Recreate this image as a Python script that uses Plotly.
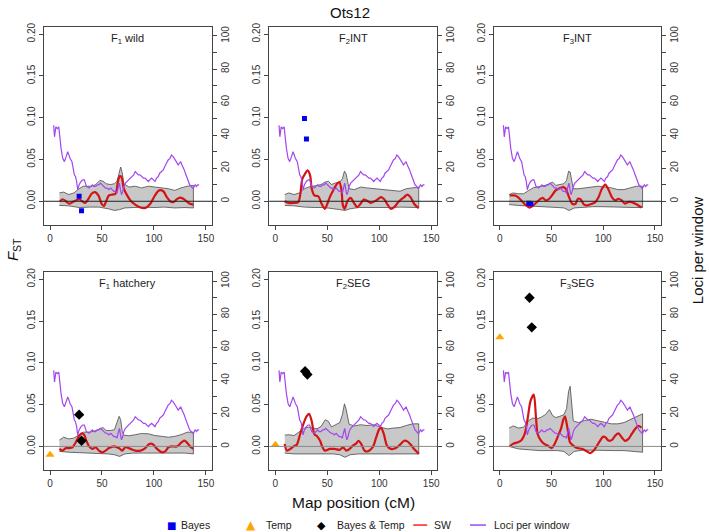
import plotly.graph_objects as go

# loci per window (same map for every panel, right axis)
loci_x = [3.5, 4.3, 5.6, 7, 8.4, 9.5, 10.6, 12.2, 13.8, 15.5, 17, 18.2, 19.2, 21.1, 22.2, 23.4, 24.5,
          25.6, 26.6, 28, 29.8, 31.5, 33, 34, 35, 37.5, 39, 40.7, 42, 43.9, 45.5, 47, 48.5, 50.2, 52,
          53.4, 55, 56.6, 58.5, 60, 61.4, 63, 64.5, 65.5, 66.8, 67.8, 68.8, 70, 71, 72.5, 74, 75.5,
          77.3, 79, 80.5, 82, 83.5, 85, 86.5, 88.3, 90, 91.5, 93, 94.7, 96, 97.8, 99.5, 101, 102.5,
          104.2, 105.5, 107.4, 109, 110.5, 112, 113.7, 115.5, 116.9, 118.5, 120, 121.5, 123.3, 124.5,
          125.8, 127, 128, 129.2, 130.3, 131.5, 132.8, 133.6, 134.4, 136, 137, 138, 139, 139.7, 141,
          142.2, 143.5]
loci_n = [46, 39, 45, 44, 45, 38, 32, 26, 24, 27, 30, 28, 26, 24, 20, 16, 15,
          12, 7, 10, 12, 13, 13, 11, 9, 8, 9, 10, 9, 9, 10, 10, 11, 10, 9,
          8, 8, 7, 8, 7, 6, 6, 5, 8, 11, 7, 4, 6, 9, 11, 12, 13,
          14, 15, 16, 18, 17, 16, 16, 15, 14, 14, 13, 12, 13, 14, 13, 12, 14,
          15, 17, 18, 19, 21, 23, 25, 26, 28, 27, 25, 24, 22, 23,
          24, 22, 20, 19, 17, 15, 13, 11, 10, 9, 8, 8, 9, 10, 9,
          10, 10]

# null distribution band (upper / lower)
band_ux = [9, 13, 18, 23, 28, 32, 36, 40, 44, 48, 51, 54, 58, 62, 64.5, 66.5, 68, 69.5, 71, 76,
           82, 88, 95, 101, 108, 114, 120, 126, 132, 138]
band_lx = [9, 18, 28, 38, 47, 56, 62, 67, 72, 80, 90, 100, 110, 120, 130, 138]

up1 = [.010, .011, .008, .010, .015, .018, .018, .018, .020, .025, .024, .021, .020, .021, .024, .036,
       .041, .034, .021, .017, .018, .016, .018, .017, .016, .015, .013, .016, .018, .019]
up2 = [.008, .010, .008, .010, .015, .017, .018, .019, .020, .023, .024, .020, .022, .023, .027, .036,
       .033, .024, .015, .014, .017, .016, .015, .015, .014, .013, .012, .015, .016, .017]
up3 = [.008, .010, .009, .009, .013, .016, .017, .018, .019, .021, .023, .019, .020, .021, .025, .036,
       .035, .026, .015, .015, .016, .017, .018, .017, .016, .014, .014, .016, .018, .018]
up4 = [.0075, .011, .009, .010, .014, .017, .017, .0175, .019, .021, .0226, .019, .019, .020, .030, .036,
       .032, .018, .0135, .0127, .014, .0155, .015, .013, .012, .011, .012, .014, .017, .017]
up5 = [.0135, .014, .013, .017, .022, .023, .022, .021, .024, .032, .030, .0234, .026, .0285, .038, .051,
       .045, .033, .0265, .0245, .026, .025, .026, .023, .021, .022, .0226, .025, .027, .027]
up6 = [.022, .0245, .022, .023, .031, .034, .033, .035, .038, .044, .037, .0345, .036, .038, .045, .066,
       .072, .050, .0305, .0285, .031, .0325, .031, .029, .027, .027, .0285, .032, .036, .039]

lo1 = [-.005, -.0055, -.0075, -.007, -.007, -.009, -.011, -.010, -.008, -.0075, -.007, -.0075, -.007, -.008, -.0075, -.008]
lo2 = [-.005, -.0055, -.007, -.0075, -.0075, -.009, -.010, -.011, -.009, -.0075, -.007, -.0075, -.0075, -.007, -.007, -.0075]
lo3 = [-.004, -.005, -.006, -.0065, -.007, -.0075, -.008, -.011, -.008, -.007, -.0065, -.0065, -.007, -.007, -.0075, -.0075]
lo4 = [-.006, -.007, -.0075, -.008, -.0083, -.009, -.010, -.012, -.009, -.008, -.008, -.008, -.0083, -.008, -.008, -.009]
lo5 = [-.008, -.009, -.009, -.009, -.009, -.009, -.010, -.013, -.010, -.009, -.009, -.009, -.009, -.009, -.009, -.009]
lo6 = [0.0, -.003, -.004, -.005, -.005, -.005, -.006, -.011, -.006, -.0045, -.0045, -.0045, -.005, -.005, -.006, -.007]

# sliding window FST
sw1_x = [9.6, 12, 15.3, 18.5, 21.7, 24.8, 28, 31, 33.8, 37, 40, 43.3, 46.5, 49.7, 52, 54, 56.7, 60, 63,
         65.3, 67, 68.8, 71, 74.2, 77.4, 82, 87, 91.7, 96.5, 101, 105, 109, 112.4, 115.6, 118.8, 122,
         125, 128.3, 131.5, 134.7, 138]
sw1 = [0, .0024, 0, -.003, -.001, .001, .0024, 0, -.002, .003, .009, .011, .007, -.003, -.0055, 0, .007,
       .008, .009, .023, .030, .029, .015, .007, .001, -.004, -.0075, -.008, -.003, .007, .013, .012, .005,
       0, -.001, .0024, .0044, .003, 0, -.003, -.004]
sw2_x = [8.9, 12.7, 17.5, 22, 23.8, 26, 28.6, 31, 33.4, 35, 37.5, 41.3, 44.5, 47.7, 50, 52.4, 55.6, 58.8,
         61.3, 63.5, 65, 66.7, 69.3, 72.4, 75.6, 78.8, 82, 85, 89, 92, 97, 101.7, 105, 108, 111, 114.4,
         119, 124, 127, 130, 133.5, 136.7, 138]
sw2 = [0, -.002, -.002, -.001, .007, .027, .033, .037, .031, .015, .007, .006, -.003, -.009, -.003, .005,
       .013, .020, .023, .015, -.005, -.009, 0, .004, -.002, -.007, -.003, .002, 0, -.002, .001, .005, .002,
       -.004, -.009, -.007, 0, .005, .008, .005, -.003, -.007, -.008]
sw3_x = [9.6, 14.3, 17.5, 22.3, 25.5, 28.7, 31.8, 36.6, 41.4, 44.6, 47.8, 51, 54, 58.3, 61.5, 63.7, 66.9,
         70, 73.2, 75.5, 78, 81.2, 84.4, 89, 92.4, 95.5, 98.7, 102, 105, 108.3, 111.5, 114.6, 117.8, 121,
         124, 127.4, 132, 137]
sw3 = [.007, .007, .005, -.001, -.005, -.0075, -.0055, 0, .004, .001, .003, .008, .013, .016, .017, .015,
       .005, -.003, -.003, .003, .0024, -.0036, -.005, -.003, -.001, .005, .015, .020, .014, .005, .001, .003,
       .001, -.003, -.001, -.001, -.0035, -.0075]
sw4_x = [9, 12, 15.3, 18.5, 21.7, 24.8, 28, 30.6, 32.8, 35, 37.6, 40.8, 44, 47, 50.3, 53.5, 56.7, 61.5,
         66.2, 69.4, 72.6, 77.4, 82, 87, 91.7, 95.5, 98.7, 103, 107.6, 110.8, 114, 117.2, 122, 126.8,
         129.3, 131.5, 134.7, 138]
sw4 = [-.003, -.005, -.002, -.002, -.001, .005, .0127, .0155, .014, .0067, 0, -.003, -.001, -.005, -.007,
       -.005, -.002, 0, -.002, -.005, -.001, -.003, -.005, -.005, -.002, .003, .003, -.003, -.007, -.006,
       -.001, 0, 0, .005, .007, .005, 0, -.003]
sw5_x = [8.9, 11, 14.3, 17.5, 20.6, 23.8, 27, 30, 32.4, 35, 37.5, 39.7, 43, 45.4, 47.7, 52.4, 57, 62, 65,
         68.3, 71.5, 74.7, 77.9, 80, 82.6, 85.8, 89, 93.7, 97, 100, 101.7, 104.2, 107.4, 111.2, 116,
         120.7, 124, 127, 130.3, 133.5, 136.6, 138]
sw5 = [.003, -.005, -.003, 0, .002, .0146, .027, .036, .039, .030, .0146, .0127, .0067, -.001, -.005,
       -.003, -.003, -.004, -.001, -.005, -.003, .001, .0036, .0067, .003, -.005, -.006, -.001, .0107,
       .0206, .0226, .0155, .001, -.003, -.002, .003, .0067, .006, .002, -.003, -.007, -.009]
sw6_x = [9.6, 12.7, 17.5, 20.7, 24, 27, 29.6, 32.8, 35, 36.6, 39.8, 43, 46, 50, 53, 55.7, 59, 61.5, 63,
         65.3, 67.8, 71, 74.9, 79.6, 84.4, 87.6, 90.8, 94, 97, 99.7, 102, 105, 108.3, 111.5, 114.6, 117.8,
         121, 124.2, 127.4, 130.6, 133.8, 137]
sw6 = [0, .003, .005, .007, .0146, .034, .054, .062, .034, .0146, .007, .003, .001, -.002, .003, .0107,
       .0206, .0325, .036, .0226, .005, .001, -.002, -.003, -.006, -.008, -.005, .001, .007, .0115, .011,
       .007, .0075, .0127, .0155, .011, .0067, .0087, .0146, .0206, .0245, .0226]

# outlier loci
bayes_x = {1: [28, 30.3], 2: [28, 29.9], 3: [28, 30]}
bayes_y = {1: [0.006, -0.0115], 2: [0.099, 0.0746], 3: [-0.0025, -0.003]}
temp_x = {4: [0], 5: [0], 6: [0]}
temp_y = {4: [-0.010], 5: [0.002], 6: [0.1307]}
both_x = {4: [28, 30.3], 5: [28.6, 30.8], 6: [28.7, 30.9]}
both_y = {4: [0.038, 0.0067], 5: [0.090, 0.086], 6: [0.178, 0.1425]}

titles = ["F<sub>1</sub> wild", "F<sub>2</sub>INT", "F<sub>3</sub>INT",
          "F<sub>1</sub> hatchery", "F<sub>2</sub>SEG", "F<sub>3</sub>SEG"]
uppers = [up1, up2, up3, up4, up5, up6]
lowers = [lo1, lo2, lo3, lo4, lo5, lo6]
sws = [(sw1_x, sw1), (sw2_x, sw2), (sw3_x, sw3), (sw4_x, sw4), (sw5_x, sw5), (sw6_x, sw6)]

W, H = 709, 532
col_px = [(44, 213), (270.3, 439.3), (495.7, 664)]
row_px = [(23, 223), (270, 470)]
FONT = "Liberation Sans, Arial, sans-serif"
RED = "#D41414"
PURPLE = "#A346F0"

fig = go.Figure()
layout = {}
shapes = []
annotations = []


def ax(kind, n):
    return kind if n == 1 else f"{kind}{n}"


for i in range(6):
    n = i + 1
    r, c = divmod(i, 3)
    xd = [col_px[c][0] / W, col_px[c][1] / W]
    yd = [1 - row_px[r][1] / H, 1 - row_px[r][0] / H]
    xa, ya, ya2 = ax("x", n), ax("y", n), ax("y", n + 6)
    tickfont = dict(family=FONT, size=10, color="#333")
    layout[ax("xaxis", n)] = dict(
        domain=xd, anchor=ya, range=[-6, 156], tickvals=[0, 50, 100, 150],
        ticks="outside", ticklen=4, tickcolor="#444", showline=True, mirror=True,
        linecolor="#444", linewidth=1, showgrid=False, zeroline=False, tickfont=tickfont)
    layout[ax("yaxis", n)] = dict(
        domain=yd, anchor=xa, range=[-0.0288, 0.2088],
        tickvals=[0, 0.05, 0.10, 0.15, 0.20], ticktext=["0.00", "0.05", "0.10", "0.15", "0.20"],
        tickangle=-90, ticks="outside", ticklen=4, tickcolor="#444", showline=True, mirror=True,
        linecolor="#444", linewidth=1, showgrid=False, zeroline=False, tickfont=tickfont)
    layout[ax("yaxis", n + 6)] = dict(
        overlaying=ya, anchor=xa, side="right", range=[-14.5, 105.5],
        tickvals=[0, 20, 40, 60, 80, 100],
        minor=dict(tickvals=[10, 30, 50, 70, 90], ticks="outside", ticklen=4, tickcolor="#444", showgrid=False),
        tickangle=-90, ticks="outside", ticklen=4, tickcolor="#444", showline=False,
        showgrid=False, zeroline=False, tickfont=tickfont)

    # null band
    fig.add_trace(go.Scatter(
        x=band_ux + band_lx[::-1], y=uppers[i] + lowers[i][::-1], xaxis=xa, yaxis=ya,
        fill="toself", fillcolor="#C8C8C8", mode="lines",
        line=dict(color="#4a4a4a", width=0.8), showlegend=False, hoverinfo="skip"))
    # SW
    sx, sy = sws[i]
    fig.add_trace(go.Scatter(
        x=sx, y=sy, xaxis=xa, yaxis=ya, mode="lines",
        line=dict(color=RED, width=2.2, shape="spline", smoothing=0.8), showlegend=False))
    if n in bayes_x:
        fig.add_trace(go.Scatter(
            x=bayes_x[n], y=bayes_y[n], xaxis=xa, yaxis=ya, mode="markers",
            marker=dict(symbol="square", size=5, color="#0000EE"), showlegend=False))
    if n in temp_x:
        fig.add_trace(go.Scatter(
            x=temp_x[n], y=temp_y[n], xaxis=xa, yaxis=ya, mode="markers", cliponaxis=False,
            marker=dict(symbol="triangle-up", size=8, color="#FFA500"), showlegend=False))
    if n in both_x:
        fig.add_trace(go.Scatter(
            x=both_x[n], y=both_y[n], xaxis=xa, yaxis=ya, mode="markers",
            marker=dict(symbol="diamond", size=8, color="black"), showlegend=False))
    # loci per window
    fig.add_trace(go.Scatter(
        x=loci_x, y=loci_n, xaxis=xa, yaxis=ya2, mode="lines",
        line=dict(color=PURPLE, width=1.2), showlegend=False))

    shapes.append(dict(type="line", xref=f"{xa} domain", yref=ya, x0=0, x1=1, y0=0, y1=0,
                       line=dict(color="#222" if r == 0 else "#8a8a8a", width=1)))
    annotations.append(dict(
        x=(xd[0] + xd[1]) / 2, y=1 - (row_px[r][0] + 12.5) / H,
        text=titles[i], font=dict(family=FONT, size=11, color="#222")))

# overall labels
annotations += [
    dict(x=0.496, y=1 - 9 / H, text="Ots12", font=dict(family=FONT, size=15, color="#111")),
    dict(x=13 / W, y=1 - 247 / H, text="<i>F</i><sub>ST</sub>", textangle=-90,
         font=dict(family=FONT, size=15, color="#111")),
    dict(x=700 / W, y=1 - 248 / H, text="Loci per window", textangle=-90,
         font=dict(family=FONT, size=15, color="#111")),
    dict(x=355 / W, y=1 - 502 / H, text="Map position (cM)",
         font=dict(family=FONT, size=15.5, color="#111")),
]

# legend drawn by hand along the bottom
ly = 1 - 525 / H
leg = [(172, "■", "#0000EE", 10), (252, "▲", "#FFA500", 12), (323, "◆", "#000", 11)]
for px, sym, col, sz in leg:
    annotations.append(dict(x=px / W, y=ly, text=sym, font=dict(family="DejaVu Sans", size=sz, color=col)))
for px, txt in [(180, "Bayes"), (265, "Temp"), (336, "Bayes & Temp"), (434, "SW"), (494, "Loci per window")]:
    annotations.append(dict(x=px / W, y=ly, text=txt, xanchor="left",
                            font=dict(family=FONT, size=10.5, color="#222")))
shapes.append(dict(type="line", xref="paper", yref="paper", x0=415 / W, x1=429 / W, y0=ly, y1=ly,
                   line=dict(color="#FF2020", width=1.5)))
shapes.append(dict(type="line", xref="paper", yref="paper", x0=472 / W, x1=488 / W, y0=ly, y1=ly,
                   line=dict(color=PURPLE, width=1.5)))

for a in annotations:
    a.setdefault("xref", "paper")
    a.setdefault("yref", "paper")
    a.setdefault("xanchor", "center")
    a.setdefault("yanchor", "middle")
    a.setdefault("showarrow", False)

fig.update_layout(
    width=W, height=H, margin=dict(l=0, r=0, t=0, b=0),
    paper_bgcolor="white", plot_bgcolor="white", showlegend=False,
    shapes=shapes, annotations=annotations, **layout)

# page body has a default 8px margin; drop it so the figure fills the window
fig.write_html("out.html", config={"displayModeBar": False},
               post_script="document.body.style.margin='0px';")
